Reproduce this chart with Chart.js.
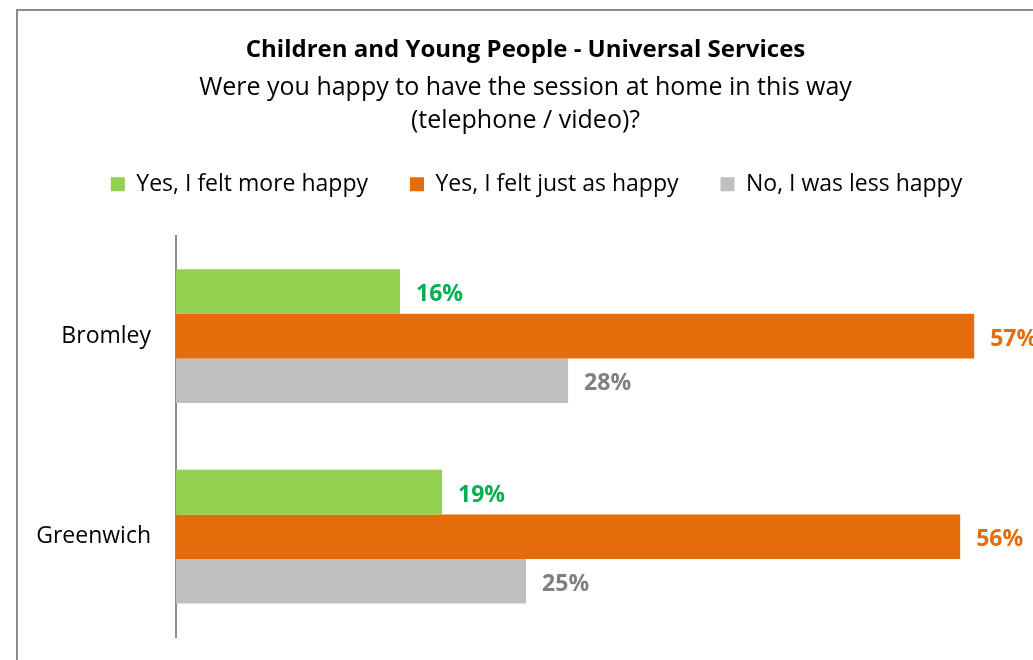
<!DOCTYPE html>
<html>
<head>
<meta charset="utf-8">
<script src="https://cdn.jsdelivr.net/npm/chart.js@4/dist/chart.umd.min.js"></script>
<style>
    html, body { margin: 0; padding: 0; overflow: hidden; background: #fff; }
    #frame {
        position: absolute; left: 16px; top: 9px;
        width: 1100px; height: 700px;
        border: 2px solid #8c8c8c;
    }
    #chart { position: absolute; left: 18px; top: 11px; }
</style>
</head>
<body>
<div id="frame"></div>
<canvas id="chart" width="1015" height="649"></canvas>
<script>
const categories = ['Bromley', 'Greenwich'];
const moreHappy = [16, 19];
const justAsHappy = [57, 56];
const lessHappy = [28, 25];
const seriesNames = ['Yes, I felt more happy', 'Yes, I felt just as happy', 'No, I was less happy'];
const titleText = 'Children and Young People - Universal Services';
const subtitleLines = ['Were you happy to have the session at home in this way', '(telephone / video)?'];

const fontFamily = '"Open Sans", sans-serif';

// draws the bold % label just past the end of each bar
const valueLabels = {
    id: 'valueLabels',
    afterDatasetsDraw(chart) {
        const ctx = chart.ctx;
        ctx.save();
        ctx.font = 'bold 23px ' + fontFamily;
        ctx.textBaseline = 'middle';
        ctx.textAlign = 'left';
        chart.data.datasets.forEach((dataset, i) => {
            const meta = chart.getDatasetMeta(i);
            ctx.fillStyle = dataset.labelColor;
            meta.data.forEach((bar, j) => {
                ctx.fillText(dataset.data[j] + '%', bar.x + 16, bar.y + 3);
            });
        });
        ctx.restore();
    }
};

// extra room under the legend, and nudge it a little to the right
const legendTweak = {
    id: 'legendTweak',
    beforeInit(chart) {
        const legend = chart.legend;
        const fit = legend.fit;
        const draw = legend.draw;
        legend.fit = function () {
            fit.call(this);
            this.height += 30;
        };
        legend.draw = function () {
            this.ctx.save();
            this.ctx.translate(11, 0);
            draw.call(this);
            this.ctx.restore();
        };
    }
};

const canvas = document.getElementById('chart');
const chart = new Chart(canvas, {
    type: 'bar',
    data: {
        labels: categories,
        datasets: [{
                label: seriesNames[0],
                data: moreHappy,
                backgroundColor: '#92D050',
                labelColor: '#00B050',
                borderWidth: 0
            }, {
                label: seriesNames[1],
                data: justAsHappy,
                backgroundColor: '#E46C0A',
                labelColor: '#E46C0A',
                borderWidth: 0
            }, {
                label: seriesNames[2],
                data: lessHappy,
                backgroundColor: '#BFBFBF',
                labelColor: '#808080',
                borderWidth: 0
            }]
    },
    options: {
        indexAxis: 'y',
        responsive: false,
        animation: false,
        layout: { padding: { left: 0, right: 0, top: 0, bottom: 23 } },
        datasets: { bar: { categoryPercentage: 0.667, barPercentage: 1 } },
        scales: {
            x: { display: false, min: 0, max: 61.2 },
            y: {
                grid: { display: false },
                border: { display: true, color: '#8c8c8c', width: 2 },
                ticks: { color: '#000', padding: 17, font: { family: fontFamily, size: 23 } },
                afterFit: scale => {
                    scale.width = 158;
                    scale.paddingTop = 0;
                    scale.paddingBottom = 0;
                }
            }
        },
        plugins: {
            title: {
                display: true,
                text: titleText,
                color: '#000',
                font: { family: fontFamily, size: 24, weight: 'bold' },
                padding: { top: 25, bottom: 7 }
            },
            subtitle: {
                display: true,
                text: subtitleLines,
                color: '#000',
                font: { family: fontFamily, size: 25, lineHeight: 1.3 },
                padding: { top: 0, bottom: -6 }
            },
            legend: {
                position: 'top',
                labels: {
                    color: '#000',
                    boxWidth: 14,
                    boxHeight: 14,
                    padding: 42,
                    font: { family: fontFamily, size: 23 }
                }
            },
            tooltip: { enabled: false }
        }
    },
    plugins: [valueLabels, legendTweak]
});
</script>
</body>
</html>
